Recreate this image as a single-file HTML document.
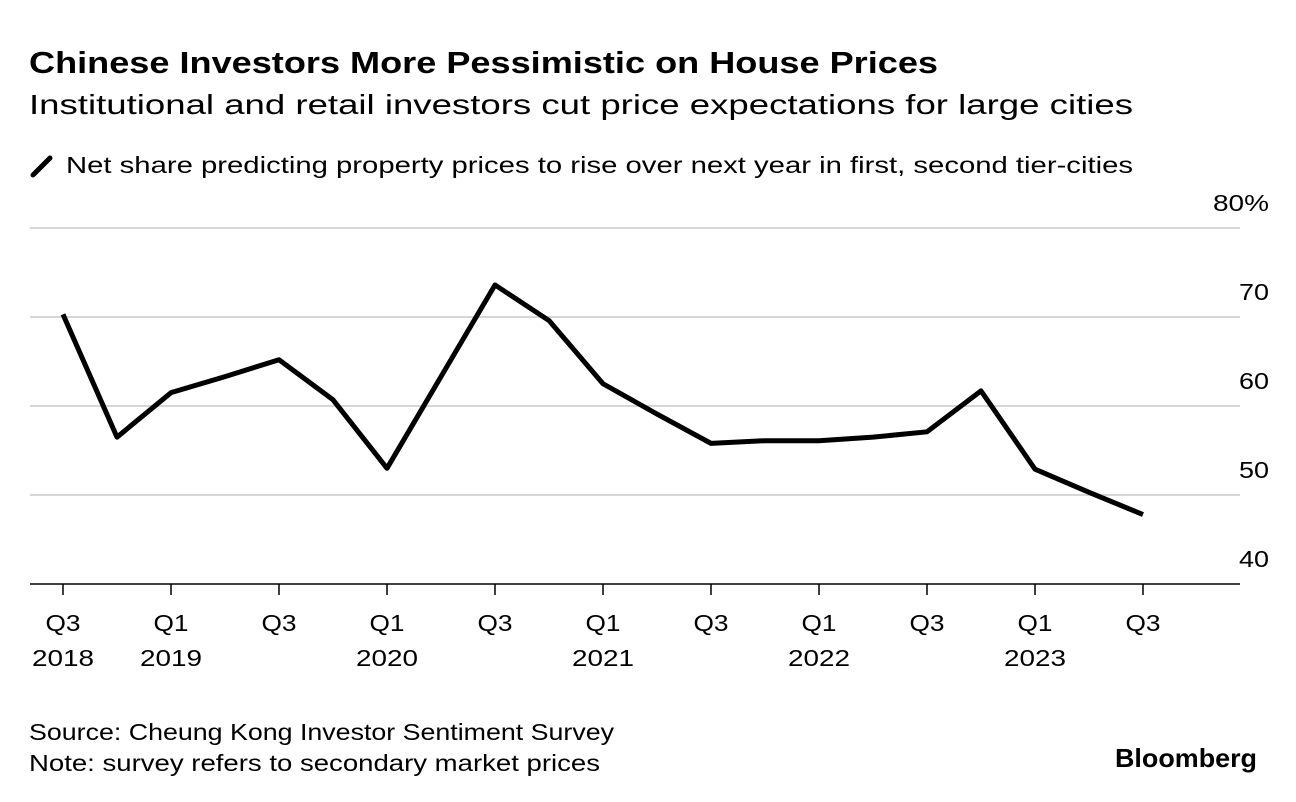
<!DOCTYPE html>
<html><head><meta charset="utf-8"><style>
body{margin:0;width:1296px;height:802px;background:#fff;font-family:"Liberation Sans",sans-serif;color:#000;overflow:hidden}
svg{position:absolute;left:0;top:0}
</style></head><body>
<svg width="1296" height="802">
<text x="29" y="73" font-size="31" font-weight="bold" textLength="909" lengthAdjust="spacingAndGlyphs">Chinese Investors More Pessimistic on House Prices</text>
<text x="29" y="114" font-size="28" textLength="1104" lengthAdjust="spacingAndGlyphs">Institutional and retail investors cut price expectations for large cities</text>
<line x1="33" y1="175" x2="50" y2="158" stroke="#000" stroke-width="5" stroke-linecap="round"/>
<text x="66" y="173" font-size="23" textLength="1067" lengthAdjust="spacingAndGlyphs">Net share predicting property prices to rise over next year in first, second tier-cities</text>
<g id="grid"></g><g id="xaxis"></g>
<path id="line" fill="none" stroke="#000" stroke-width="5" stroke-linejoin="round"/>
<text x="29" y="740" font-size="23" textLength="585" lengthAdjust="spacingAndGlyphs">Source: Cheung Kong Investor Sentiment Survey</text>
<text x="29" y="771" font-size="23" textLength="571" lengthAdjust="spacingAndGlyphs">Note: survey refers to secondary market prices</text>
<text x="1115" y="767" font-size="26" font-weight="bold" textLength="142" lengthAdjust="spacingAndGlyphs">Bloomberg</text>
</svg>
<script>
const values=[70.3,56.5,61.5,63.3,65.2,60.7,53.0,63.3,73.6,69.6,62.5,59.1,55.8,56.1,56.1,56.5,57.1,61.7,52.9,50.3,47.8];
const yTicks=[40,50,60,70,80];
const yTickLabels=["40","50","60","70","80%"];
const xLabelTop=["Q3","Q1","Q3","Q1","Q3","Q1","Q3","Q1","Q3","Q1","Q3"];
const xLabelBottom=["2018","2019","","2020","","2021","","2022","","2023",""];
const NS="http://www.w3.org/2000/svg";
const y=v=>584-(v-40)*8.9;
const x=i=>63+i*54;
const grid=document.getElementById('grid');
yTicks.forEach((t,k)=>{
 const l=document.createElementNS(NS,'line');
 l.setAttribute('x1',30);l.setAttribute('x2',1240);l.setAttribute('y1',y(t));l.setAttribute('y2',y(t));
 l.setAttribute('stroke',k==0?'#000':'#d6d6d6');l.setAttribute('stroke-width',k==0?1.5:2);
 
 
 grid.appendChild(l);
 const tx=document.createElementNS(NS,'text');
 tx.setAttribute('x',1269);tx.setAttribute('y',y(t)-17);tx.setAttribute('text-anchor','end');tx.setAttribute('font-size','23');
 tx.setAttribute('textLength',yTickLabels[k].length==3?56:30);tx.setAttribute('lengthAdjust','spacingAndGlyphs');
 tx.textContent=yTickLabels[k];
 
 
 grid.appendChild(tx);
});
const xa=document.getElementById('xaxis');
xLabelTop.forEach((q,k)=>{
 const px=x(k*2);
 const l=document.createElementNS(NS,'line');
 l.setAttribute('x1',px);l.setAttribute('x2',px);l.setAttribute('y1',584);l.setAttribute('y2',595);l.setAttribute('stroke','#000');l.setAttribute('stroke-width',1.5);
 
 
 xa.appendChild(l);
 [[q,631,35],[xLabelBottom[k],666,62]].forEach(([s,yy,w])=>{
  if(!s)return;
  const t=document.createElementNS(NS,'text');
  t.setAttribute('x',px);t.setAttribute('y',yy);t.setAttribute('text-anchor','middle');t.setAttribute('font-size','23');
  t.setAttribute('textLength',w);t.setAttribute('lengthAdjust','spacingAndGlyphs');
  t.textContent=s;
  
  
  xa.appendChild(t);
 });
});
document.getElementById('line').setAttribute('d',values.map((v,i)=>(i?'L':'M')+x(i)+','+y(v)).join(''));
</script>
</body></html>
